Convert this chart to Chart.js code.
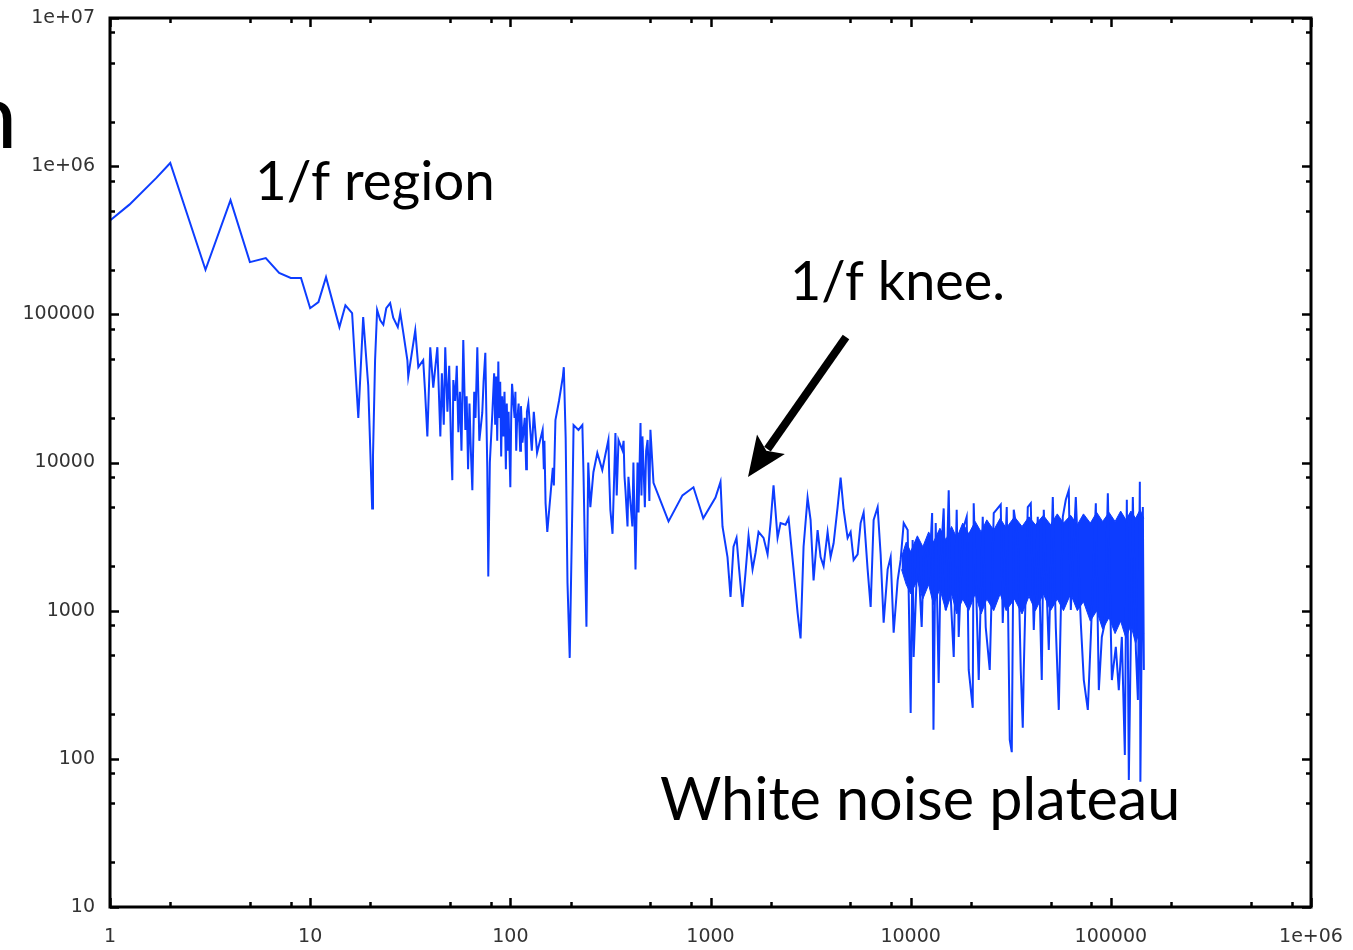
<!DOCTYPE html>
<html>
<head>
<meta charset="utf-8">
<script src="https://cdn.jsdelivr.net/npm/chart.js@4.4.0/dist/chart.umd.min.js"></script>
<style>
  html, body { margin: 0; padding: 0; background: #fff; }
  #wrap { width: 1353px; height: 950px; position: relative; overflow: hidden; }
</style>
</head>
<body>
<div id="wrap"><canvas id="c" width="1353" height="950"></canvas></div>
<script>
// ---- data (frequency, power) ----
const freqs = [
  1, 1.25, 1.7, 2, 3, 4, 5, 6, 7, 8, 9, 10,
  11, 12, 14, 15, 16.2, 16.8, 17.4, 18.2, 18.4, 19.5,
  20.4, 20.6, 21.1, 21.6, 22.4, 23.2, 24, 25.1, 26, 27.4,
  28.2, 29.2, 30.6, 30.9, 33.5, 34.7, 36.7, 37.5, 38.5, 39.8,
  41.2, 43.2, 44.7, 45.5, 46.5, 47.3, 48.5, 49.5, 50.5, 51.3,
  51.9, 53, 54, 55, 56, 57, 58.2, 59.6, 60.5, 61.5,
  62.5, 63.5, 64.6, 66, 67, 68.4, 70, 72.4, 73.5, 75,
  76.7, 77.6, 79, 81.3, 83, 84, 85, 86, 87.1, 88,
  89, 90, 91, 92.3, 93.5, 95, 96, 97, 98, 100,
  101, 102, 105, 106, 107, 108, 110, 112, 113, 115,
  118, 120, 121, 123, 128, 131, 136, 145, 147, 148,
  150, 153, 163, 165, 168, 175, 183, 185, 189, 193,
  198, 205, 207, 219, 229, 232, 237, 240, 245, 251,
  260, 272, 288, 298, 309, 312, 316, 324, 335, 340,
  347, 363, 368, 372, 376, 385, 389, 407, 412, 422,
  432, 437, 447, 452, 457, 463, 470, 477, 485, 490,
  495, 501, 519, 617, 724, 822, 920, 1059, 1122, 1148,
  1216, 1259, 1303, 1349, 1390, 1445, 1496, 1549, 1622, 1679,
  1738, 1841, 1928, 1995, 2065, 2163, 2239, 2371, 2455, 2600,
  2723, 2818, 2917, 3055, 3162, 3273, 3428, 3548, 3673, 3846,
  3981, 4121, 4315, 4467, 4624, 4842, 5012, 5188, 5433, 5623,
  5821, 6095, 6310, 6531, 6839, 7079, 7328, 7674, 7943, 8222,
  8610, 8910, 9230, 9660, 10000, 10230, 10350, 10840, 10970, 11350,
  11620, 12160, 12300, 12800, 13000, 13340, 13800, 14130, 14620, 14960,
  15490, 15850, 16410, 16980, 17380, 18200, 19050, 19500, 20420, 20650,
  21880, 22910, 23710, 24830, 26000, 28180, 28840, 30200, 31260, 32000,
  32730, 34280, 35480, 36310, 36730, 38460, 39810, 41210, 43150, 45180,
  46240, 48980, 51290, 53090, 54950, 57540, 59570, 61660, 63100, 66830,
  70790, 73280, 76740, 79430, 84140, 87100, 90160, 93330, 96610, 101200,
  105900, 109600, 113500, 117500, 120200, 123000, 128800, 133400, 136500, 139600,
  140500, 144500, 146200
];
const power = [
  430000, 550000, 830000, 1050000, 200000, 590000, 225000, 240000, 190000, 176000, 176000, 110000,
  121000, 178000, 82000, 115000, 102000, 44000, 20000, 70000, 96000, 33000,
  4900, 11000, 49000, 107000, 91000, 85000, 110000, 119000, 95000, 82000,
  102000, 75000, 49000, 38000, 78000, 44000, 49000, 30000, 15000, 60000,
  32000, 60000, 15000, 40000, 18000, 60000, 22000, 45000, 14000, 7600,
  36000, 26000, 45000, 16000, 30000, 12000, 67000, 16600, 28000, 9000,
  25000, 12000, 6500, 30000, 20000, 60000, 14000, 21600, 35000, 55000,
  9300, 1700, 10000, 21600, 40000, 18000, 38000, 14000, 48000, 20000,
  35000, 11000, 28000, 15000, 30000, 9000, 25000, 12000, 22000, 6800,
  20000, 34000, 20000, 30000, 12000, 18500, 25000, 12000, 24000, 13600,
  20000, 9000, 22000, 25000, 12000, 22000, 11600, 16600, 9000, 14000,
  5300, 3400, 9200, 7000, 19300, 26000, 38000, 44000, 14600, 1540,
  480, 7300, 17900, 16600, 17900, 8500, 1800, 780, 10000, 5000,
  8600, 11600, 8900, 11200, 14200, 8000, 4800, 3300, 15800, 6000,
  14200, 12100, 14000, 8000, 6500, 3700, 8000, 3700, 10000, 1900,
  10000, 4600, 18500, 6000, 15000, 9300, 5000, 12000, 14200, 9300,
  5500, 16600, 7300, 4000, 6000, 6800, 4200, 5800, 7400, 3700,
  2300, 1240, 2700, 3100, 1900, 1060, 1800, 3200, 1900, 2450,
  3400, 3100, 2400, 3900, 7000, 3100, 3900, 3800, 4200, 1900,
  970, 650, 2700, 5800, 4100, 1600, 3500, 2300, 2000, 3400,
  2300, 2850, 5000, 7900, 4800, 3100, 3400, 2200, 2400, 3900,
  4600, 1900, 1060, 4100, 5000, 2400, 830, 1900, 2300, 710,
  1600, 2200, 3900, 3500, 204, 3000, 487, 2570, 1880, 776,
  2300, 2700, 1540, 4560, 157, 3900, 325, 2200, 4900, 1010,
  6500, 1240, 487, 4800, 665, 3500, 4300, 398, 221, 5300,
  340, 4300, 776, 398, 4560, 5200, 826, 5000, 134, 111,
  4800, 3140, 398, 162, 398, 5000, 5300, 741, 4300, 340,
  4800, 543, 5850, 776, 214, 4300, 5600, 6500, 1010, 5850,
  826, 340, 214, 665, 5300, 291, 665, 826, 6200, 340,
  570, 291, 665, 106, 5600, 72, 5850, 543, 250, 7400,
  70, 5000, 398
];
// dense white-noise core (solid band between a ragged upper and lower envelope)
const bandFreq = [
  9000, 9500, 10000, 10800, 11500, 12300, 13000, 14000, 15000, 16000, 17000, 18200, 19500, 21000,
  22500, 24000, 26000, 28000, 30000, 33000, 36000, 39000, 42000, 46000, 50000, 54000, 58000, 63000,
  68000, 73000, 79000, 85000, 91000, 98000, 105000, 112000, 119000, 126000, 133000, 140000, 146000
];
const bandHigh = [
  2300, 2900, 2500, 3200, 2700, 3400, 2900, 3600, 3000, 3700, 3100, 3900, 3300, 4000,
  3400, 4100, 3500, 4200, 3600, 4300, 3700, 4300, 3800, 4400, 3800, 4500, 3900, 4400,
  3800, 4500, 3900, 4600, 4000, 4600, 4000, 4700, 4100, 4700, 4200, 4800, 4200
];
const bandLow = [
  1900, 1500, 1300, 1600, 1200, 1500, 1100, 1400, 1000, 1300, 950, 1200, 1000, 1300,
  950, 1200, 1000, 1300, 1000, 1200, 950, 1250, 1000, 1300, 1000, 1200, 1000, 1300,
  1000, 1150, 850, 1000, 750, 900, 700, 850, 650, 800, 600, 750, 700
];

// axis ticks
const xDecades = [1, 10, 100, 1000, 10000, 100000, 1000000];
const xTickLabels = ['1', '10', '100', '1000', '10000', '100000', '1e+06'];
const yDecades = [10, 100, 1000, 10000, 100000, 1000000, 10000000];
const yTickLabels = ['10', '100', '1000', '10000', '100000', '1e+06', '1e+07'];
const minorSteps = [2, 5, 8];

// annotations
const notes = [
  { text: '1/f region', x: 255, y: 200, w: 240 },
  { text: '1/f knee.', x: 790, y: 300, w: 215 },
  { text: 'White noise plateau', x: 660, y: 820, w: 520 }
];

// ---- build ----
function withMinors(decades) {
  const out = [];
  decades.forEach((d, i) => {
    out.push(d);
    if (i < decades.length - 1) minorSteps.forEach(m => out.push(d * m));
  });
  return out;
}
const xAll = withMinors(xDecades);
const yAll = withMinors(yDecades);

const BLUE = '#0d3dff';
const mainData = freqs.map((f, i) => ({ x: f, y: power[i] }));
const highData = bandFreq.map((f, i) => ({ x: f, y: bandHigh[i] }));
const lowData = bandFreq.map((f, i) => ({ x: f, y: bandLow[i] }));

const tickFont = { family: 'DejaVu Sans', size: 19 };

function noPad(s) { s.paddingTop = 0; s.paddingBottom = 0; s.paddingLeft = 0; s.paddingRight = 0; }

const framePlugin = {
  id: 'frame',
  afterDatasetsDraw(chart) {
    const { ctx, chartArea: a, scales } = chart;
    const xs = scales.x, ys = scales.y;
    ctx.save();
    ctx.strokeStyle = '#000';
    ctx.lineWidth = 3;
    ctx.strokeRect(a.left, a.top, a.right - a.left, a.bottom - a.top);
    ctx.lineWidth = 2.5;
    ctx.beginPath();
    xAll.forEach(v => {
      const len = xDecades.includes(v) ? 9 : 5;
      const px = Math.round(xs.getPixelForValue(v)) + 0.5;
      ctx.moveTo(px, a.bottom); ctx.lineTo(px, a.bottom - len);
      ctx.moveTo(px, a.top); ctx.lineTo(px, a.top + len);
    });
    yAll.forEach(v => {
      const len = yDecades.includes(v) ? 9 : 5;
      const py = Math.round(ys.getPixelForValue(v)) + 0.5;
      ctx.moveTo(a.left, py); ctx.lineTo(a.left + len, py);
      ctx.moveTo(a.right, py); ctx.lineTo(a.right - len, py);
    });
    ctx.stroke();
    ctx.restore();
  },
  afterDraw(chart) {
    const ctx = chart.ctx;
    ctx.save();
    ctx.fillStyle = '#000';
    ctx.textBaseline = 'alphabetic';
    ctx.textAlign = 'left';
    notes.forEach(n => {
      ctx.font = '60px Lato';
      const w = ctx.measureText(n.text).width;
      const size = 60 * n.w / w;
      ctx.font = size.toFixed(1) + 'px Lato';
      ctx.fillText(n.text, n.x, n.y);
    });
    // cut-off letter of the slide at the left edge
    ctx.font = '92px Lato';
    ctx.fillText('n', -34, 148);
    // arrow
    const x1 = 846, y1 = 337, x2 = 748, y2 = 477;
    const ang = Math.atan2(y2 - y1, x2 - x1);
    const headLen = 40, headW = 17;
    const bx = x2 - headLen * Math.cos(ang), by = y2 - headLen * Math.sin(ang);
    ctx.strokeStyle = '#000';
    ctx.lineWidth = 8;
    ctx.lineCap = 'butt';
    ctx.beginPath();
    ctx.moveTo(x1, y1);
    ctx.lineTo(bx + 6 * Math.cos(ang), by + 6 * Math.sin(ang));
    ctx.stroke();
    ctx.beginPath();
    ctx.moveTo(x2, y2);
    ctx.lineTo(bx + headW * Math.sin(ang), by - headW * Math.cos(ang));
    ctx.lineTo(bx + 8 * Math.cos(ang), by + 8 * Math.sin(ang));
    ctx.lineTo(bx - headW * Math.sin(ang), by + headW * Math.cos(ang));
    ctx.closePath();
    ctx.fill();
    ctx.restore();
  }
};

new Chart(document.getElementById('c'), {
  type: 'scatter',
  data: {
    datasets: [
      { data: highData, showLine: true, borderWidth: 1, borderColor: BLUE, pointRadius: 0, fill: false, order: 3 },
      { data: lowData, showLine: true, borderWidth: 1, borderColor: BLUE, pointRadius: 0, fill: '-1', backgroundColor: BLUE, order: 2 },
      { data: mainData, showLine: true, borderColor: BLUE, borderWidth: 2, pointRadius: 0, tension: 0, fill: false, order: 1 }
    ]
  },
  options: {
    responsive: false,
    devicePixelRatio: 1,
    animation: false,
    layout: { padding: { top: 18, right: 42, left: 0, bottom: 0 } },
    plugins: { legend: { display: false }, tooltip: { enabled: false } },
    scales: {
      x: {
        type: 'logarithmic', min: 1, max: 1000000, position: 'bottom',
        grid: { display: false, drawTicks: false },
        border: { display: false },
        afterBuildTicks(s) { s.ticks = xAll.map(v => ({ value: v })); },
        afterFit(s) { s.height = 43; noPad(s); },
        ticks: {
          autoSkip: false, maxRotation: 0, padding: 19, color: '#333', font: tickFont,
          callback(v) { const i = xDecades.indexOf(v); return i >= 0 ? xTickLabels[i] : ''; }
        }
      },
      y: {
        type: 'logarithmic', min: 10, max: 10000000, position: 'left',
        grid: { display: false, drawTicks: false },
        border: { display: false },
        afterBuildTicks(s) { s.ticks = yAll.map(v => ({ value: v })); },
        afterFit(s) { s.width = 110; noPad(s); },
        ticks: {
          autoSkip: false, padding: 15, color: '#333', font: tickFont,
          callback(v) { const i = yDecades.indexOf(v); return i >= 0 ? yTickLabels[i] : ''; }
        }
      }
    }
  },
  plugins: [framePlugin]
});
</script>
</body>
</html>
